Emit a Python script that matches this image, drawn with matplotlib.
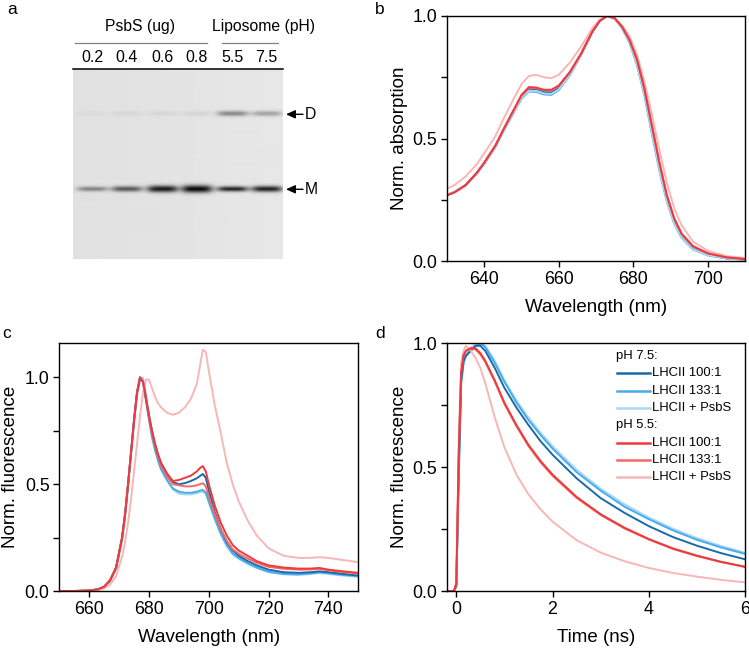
import numpy as np
import matplotlib
matplotlib.use("Agg")
import matplotlib.pyplot as plt
from matplotlib.ticker import MultipleLocator
from matplotlib.lines import Line2D

plt.rcParams['font.family'] = ['Liberation Sans', 'DejaVu Sans']

W, H = 749, 652

# ---- data -------------------------------------------------------------
# colours / labels
labels = ['LHCII 100:1', 'LHCII 133:1', 'LHCII + PsbS']
blue_cols = ['#1b6aa5', '#45acec', '#aad8f4']
red_cols = ['#ee3a3c', '#f26a6a', '#f8b6b6']

# (a) western blot
lane_labels = ['0.2', '0.4', '0.6', '0.8', '5.5', '7.5']
lane_x = [19.6, 54.0, 89.6, 124.0, 159.6, 194.0]      # lane centres, px in blot
band_M = [0.42, 0.62, 0.90, 0.97, 0.86, 0.88]        # monomer band darkness
band_M_sig = [2.4, 2.8, 3.4, 3.8, 2.6, 3.0]
band_D = [0.03, 0.05, 0.06, 0.07, 0.42, 0.30]         # dimer band darkness

# (b) absorption
wl_abs = [630, 632, 635, 638, 640, 643, 645, 648, 650, 652, 654, 656, 658, 660,
          663, 666, 669, 671, 673, 675, 677, 679, 681, 683, 685, 687, 689, 691,
          693, 696, 700, 705, 710]
abs_b100 = [.270, .282, .310, .360, .400, .470, .530, .615, .670, .702, .700, .690, .688, .705,
            .765, .843, .935, .980, 1.0, .990, .953, .895, .810, .685, .530, .380, .250, .157,
            .098, .050, .025, .011, .006]
abs_b133 = [.268, .280, .308, .356, .396, .465, .524, .608, .662, .692, .690, .680, .678, .697,
            .758, .840, .933, .980, 1.0, .990, .950, .890, .800, .675, .520, .370, .243, .152,
            .094, .047, .023, .010, .005]
abs_bpsbs = [.270, .282, .309, .358, .398, .467, .526, .610, .665, .695, .694, .684, .682, .700,
             .760, .841, .934, .980, 1.0, .990, .951, .892, .805, .680, .525, .375, .246, .154,
             .096, .048, .024, .011, .006]
abs_r100 = [.268, .280, .310, .360, .402, .472, .533, .620, .678, .710, .708, .699, .699, .716,
            .772, .847, .936, .980, 1.0, .991, .956, .902, .822, .702, .552, .402, .268, .172,
            .110, .060, .031, .015, .008]
abs_r133 = [.268, .280, .309, .359, .400, .470, .531, .618, .675, .707, .705, .696, .696, .714,
            .770, .846, .935, .980, 1.0, .991, .956, .903, .824, .705, .556, .406, .271, .175,
            .112, .062, .032, .015, .008]
abs_rpsbs = [.295, .310, .345, .395, .440, .510, .575, .665, .722, .755, .760, .750, .746, .760,
             .810, .875, .950, .985, 1.0, .991, .962, .918, .843, .732, .600, .455, .320, .215,
             .145, .080, .042, .020, .012]

# (c) fluorescence emission
wl_fl = [650, 655, 660, 663, 665, 667, 669, 671, 672, 673, 674, 675, 676, 677, 678, 679,
         680, 681, 682, 683, 684, 686, 688, 690, 692, 694, 696, 697, 698, 699, 700, 701,
         702, 704, 706, 708, 710, 713, 716, 720, 725, 730, 734, 737, 740, 745, 750]
fl_b100 = [0, 0, .002, .008, .02, .05, .11, .25, .36, .50, .65, .80, .93, 1.0, .98, .90,
           .82, .75, .69, .64, .60, .55, .51, .50, .505, .515, .528, .538, .548, .53, .47, .42,
           .37, .29, .23, .19, .165, .14, .12, .10, .088, .085, .088, .092, .088, .08, .072]
fl_b133 = [0, 0, .002, .008, .02, .05, .11, .25, .36, .50, .65, .80, .93, 1.0, .98, .89,
           .80, .72, .66, .61, .57, .52, .48, .465, .46, .46, .465, .47, .473, .46, .42, .38,
           .34, .27, .215, .175, .155, .13, .11, .09, .08, .078, .082, .087, .083, .075, .07]
fl_bpsbs = [0, 0, .002, .007, .018, .045, .10, .23, .34, .48, .63, .78, .91, .98, 1.0, .93,
            .83, .74, .67, .62, .575, .52, .475, .455, .452, .452, .458, .462, .465, .455, .415, .375,
            .335, .265, .21, .172, .15, .127, .108, .088, .078, .075, .079, .084, .08, .072, .066]
fl_r100 = [0, 0, .002, .008, .02, .05, .11, .25, .36, .50, .65, .80, .93, 1.0, .98, .90,
           .82, .75, .69, .64, .60, .55, .515, .52, .53, .54, .56, .575, .585, .56, .50, .45,
           .40, .32, .26, .215, .19, .165, .14, .12, .11, .105, .105, .108, .10, .092, .085]
fl_r133 = [0, 0, .002, .008, .02, .05, .11, .25, .36, .50, .65, .80, .93, 1.0, .98, .90,
           .81, .74, .68, .63, .59, .535, .50, .495, .49, .49, .495, .50, .505, .49, .44, .40,
           .36, .29, .235, .195, .175, .152, .132, .113, .104, .10, .101, .104, .097, .089, .082]
fl_rpsbs = [0, 0, .001, .005, .012, .03, .07, .16, .23, .32, .43, .56, .69, .82, .93, .99,
            .99, .95, .91, .88, .86, .835, .825, .835, .86, .90, .97, 1.05, 1.13, 1.12, 1.03, .95,
            .87, .74, .60, .50, .42, .33, .26, .20, .165, .155, .155, .158, .155, .145, .135]

# (d) fluorescence decay
t_ns = [-0.2, -0.05, 0.0, 0.05, 0.1, 0.15, 0.2, 0.3, 0.4, 0.5, 0.6, 0.8, 1.0, 1.25,
        1.5, 1.75, 2.0, 2.5, 3.0, 3.5, 4.0, 4.5, 5.0, 5.5, 6.0]
dec_b100 = [0, 0, .02, .50, .85, .93, .95, .97, .99, .99, .97, .90, .82, .74,
            .67, .605, .55, .455, .375, .315, .262, .218, .183, .153, .128]
dec_b133 = [0, 0, .02, .45, .84, .92, .95, .97, .99, 1.0, .985, .92, .845, .76,
            .69, .63, .575, .48, .405, .34, .29, .245, .207, .176, .15]
dec_bpsbs = [0, 0, .02, .45, .83, .92, .95, .98, 1.0, 1.0, .99, .93, .85, .77,
             .70, .64, .585, .49, .413, .35, .297, .252, .214, .182, .155]
dec_r100 = [0, 0, .03, .55, .88, .95, .97, .98, .98, .96, .93, .85, .76, .67,
            .59, .525, .47, .38, .31, .255, .21, .172, .143, .118, .098]
dec_r133 = [0, 0, .03, .55, .88, .95, .97, .98, .975, .955, .925, .845, .755, .665,
            .585, .52, .465, .376, .307, .252, .208, .17, .141, .117, .097]
dec_rpsbs = [0, 0, .03, .60, .92, .97, .99, .97, .94, .90, .84, .70, .58, .47,
             .39, .33, .28, .205, .155, .12, .093, .073, .058, .045, .035]


def box(l, t, r, b):
    return [l / W, 1 - b / H, (r - l) / W, (b - t) / H]


def fx(x):
    return x / W


def fy(y):
    return 1 - y / H


fig = plt.figure(figsize=(W / 100, H / 100), dpi=100)

# ---- panel a : blot ---------------------------------------------------
axa = fig.add_axes(box(72.7, 69, 282.7, 259.3))
bw, bh = 210, 190
xx, yy = np.meshgrid(np.arange(bw) + 0.5, np.arange(bh) + 0.5)
dark = np.zeros((bh, bw))
for cx, m, ms, d in zip(lane_x, band_M, band_M_sig, band_D):
    lane = np.exp(-((xx - cx) / 15.5) ** 4)
    dark += m * lane * np.exp(-((yy - 120.3) / ms) ** 2)
    dark += d * lane * np.exp(-((yy - 45.3) / 2.6) ** 2)
img = 0.88 * (1 - np.clip(dark, 0, 1)) + 0.025 * (xx / bw)
axa.imshow(img, cmap='gray', vmin=0, vmax=1, extent=(0, bw, bh, 0), aspect='auto',
           interpolation='bilinear')
axa.set_axis_off()

fig.add_artist(Line2D([fx(72.7), fx(282.7)], [fy(69), fy(69)], color='black', lw=1.1))
fig.add_artist(Line2D([fx(75), fx(206.7)], [fy(42.7), fy(42.7)], color='#808080', lw=0.9))
fig.add_artist(Line2D([fx(221.7), fx(277.7)], [fy(42.7), fy(42.7)], color='#808080', lw=0.9))
fig.text(fx(140), fy(27), 'PsbS (ug)', ha='center', va='center', fontsize=11.3)
fig.text(fx(263.3), fy(27), 'Liposome (pH)', ha='center', va='center', fontsize=11.3)
for cx, lab in zip(lane_x, lane_labels):
    fig.text(fx(72.7 + cx), fy(57), lab, ha='center', va='center', fontsize=11.5)

for lab, yb in [('D', 114.3), ('M', 189.3)]:
    fig.text(fx(305), fy(yb), lab, ha='left', va='center', fontsize=11.3)
    axa.annotate('', xy=(fx(286), fy(yb)), xytext=(fx(303), fy(yb)),
                 xycoords='figure fraction', textcoords='figure fraction',
                 arrowprops=dict(arrowstyle='-|>,head_length=0.55,head_width=0.25',
                                 color='black', lw=1.0, shrinkA=0, shrinkB=0))


def style(ax):
    for s in ax.spines.values():
        s.set_linewidth(1.0)
    ax.tick_params(direction='out', length=4, width=1.0, labelsize=12.8, pad=3)
    ax.tick_params(which='minor', direction='out', length=4, width=1.0)
    ax.yaxis.set_major_locator(MultipleLocator(0.5))
    ax.yaxis.set_minor_locator(MultipleLocator(0.25))
    ax.yaxis.set_major_formatter(plt.FormatStrFormatter('%.1f'))


# ---- panel b : absorption ----------------------------------------------
axb = fig.add_axes(box(447, 16, 745, 261))
for ys, c in zip([abs_b100, abs_b133, abs_bpsbs], blue_cols):
    axb.plot(wl_abs, ys, color=c, lw=1.4)
for ys, c in zip([abs_rpsbs, abs_r133, abs_r100], red_cols[::-1]):
    axb.plot(wl_abs, ys, color=c, lw=1.4)
axb.set_xlim(630, 710)
axb.set_ylim(0, 1.0)
axb.set_xticks([640, 660, 680, 700])
style(axb)
axb.set_xlabel('Wavelength (nm)', fontsize=13.5, labelpad=8)
axb.set_ylabel('Norm. absorption', fontsize=13.5, labelpad=3)

# ---- panel c : emission -------------------------------------------------
axc = fig.add_axes(box(59.3, 343.3, 358.3, 591))
for ys, c in zip([fl_bpsbs, fl_b133, fl_b100], blue_cols[::-1]):
    axc.plot(wl_fl, ys, color=c, lw=1.4)
for ys, c in zip([fl_rpsbs, fl_r133, fl_r100], red_cols[::-1]):
    axc.plot(wl_fl, ys, color=c, lw=1.4)
axc.set_xlim(650, 750)
axc.set_ylim(0, 1.16)
axc.set_xticks([660, 680, 700, 720, 740])
style(axc)
axc.set_xlabel('Wavelength (nm)', fontsize=13.5, labelpad=8)
axc.set_ylabel('Norm. fluorescence', fontsize=13.5, labelpad=4)

# ---- panel d : decay ----------------------------------------------------
axd = fig.add_axes(box(446.7, 343.3, 745, 591))
for ys, c in zip([dec_bpsbs, dec_b133, dec_b100], blue_cols[::-1]):
    axd.plot(t_ns, ys, color=c, lw=1.4)
for ys, c in zip([dec_rpsbs, dec_r133, dec_r100], red_cols[::-1]):
    axd.plot(t_ns, ys, color=c, lw=1.4)
axd.set_xlim(-0.2, 6)
axd.set_ylim(0, 1.0)
axd.set_xticks([0, 2, 4, 6])
style(axd)
axd.set_xlabel('Time (ns)', fontsize=13.5, labelpad=8)
axd.set_ylabel('Norm. fluorescence', fontsize=13.5, labelpad=3)

# manual legend with group headers
def ax_x(px):
    return (px - 446.7) / (745 - 446.7)


def ax_y(py):
    return (591 - py) / (591 - 343.3)


row = 17.3
ypos = 356
for head, cols in [('pH 7.5:', blue_cols), ('pH 5.5:', red_cols)]:
    axd.text(ax_x(616), ax_y(ypos), head, transform=axd.transAxes, fontsize=9.4,
             ha='left', va='center')
    ypos += row
    for lab, c in zip(labels, cols):
        axd.plot([ax_x(616.7), ax_x(650)], [ax_y(ypos), ax_y(ypos)], color=c, lw=1.8,
                 transform=axd.transAxes, clip_on=False)
        axd.text(ax_x(652), ax_y(ypos), lab, transform=axd.transAxes, fontsize=9.4,
                 ha='left', va='center')
        ypos += row

# panel letters
for lab, x, y in [('a', 12, 9), ('b', 380, 9), ('c', 7, 333), ('d', 380, 333)]:
    fig.text(fx(x), fy(y), lab, ha='center', va='center', fontsize=12.5)

fig.savefig('out.png', dpi=100)
